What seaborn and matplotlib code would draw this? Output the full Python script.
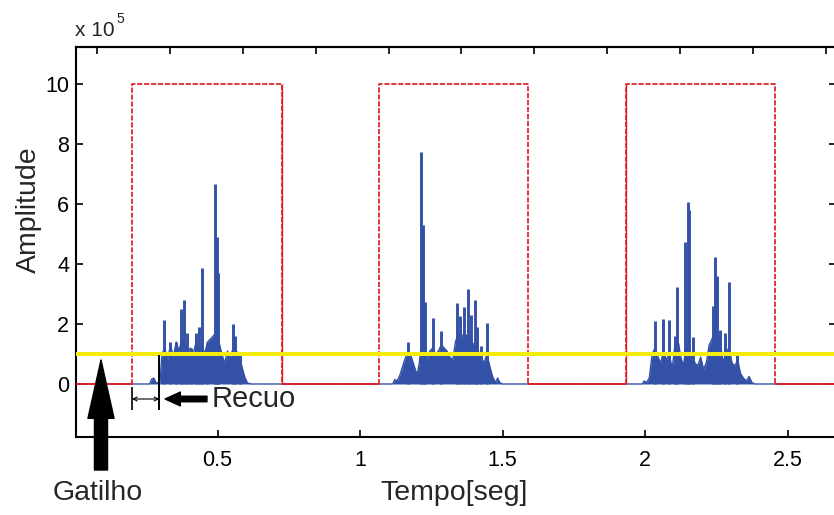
import matplotlib
matplotlib.use("Agg")
import matplotlib.pyplot as plt
import seaborn as sns

# ---------------- data (amplitude in units of 1e5, time in s) ----------------
gate_on = [0.200, 1.065, 1.933]
gate_off = [0.725, 1.588, 2.456]
gate_level = 10.0
threshold = 1.0

# dense "mass" of the signal (envelope of the fast oscillation)
mass_t = [0.0, 0.262, 0.268, 0.276, 0.284, 0.298, 0.305, 0.315, 0.325, 0.335, 0.345,
          0.355, 0.365, 0.375, 0.385, 0.395, 0.405, 0.415, 0.425, 0.435, 0.445, 0.455,
          0.465, 0.475, 0.485, 0.495, 0.505, 0.515, 0.525, 0.535, 0.545, 0.555, 0.565,
          0.575, 0.585, 0.595, 0.605, 0.62,
          1.115, 1.122, 1.13, 1.14, 1.15, 1.16, 1.17, 1.18, 1.19, 1.20, 1.208, 1.215,
          1.225, 1.235, 1.245, 1.255, 1.265, 1.275, 1.285, 1.295, 1.305, 1.315, 1.325,
          1.335, 1.345, 1.355, 1.365, 1.375, 1.385, 1.395, 1.405, 1.415, 1.425, 1.435,
          1.445, 1.455, 1.465, 1.475, 1.483, 1.49, 1.50,
          1.99, 1.997, 2.005, 2.015, 2.025, 2.035, 2.045, 2.055, 2.065, 2.075, 2.085,
          2.095, 2.105, 2.115, 2.125, 2.135, 2.145, 2.155, 2.165, 2.175, 2.185, 2.195,
          2.205, 2.215, 2.225, 2.235, 2.245, 2.255, 2.265, 2.275, 2.285, 2.295, 2.305,
          2.315, 2.325, 2.335, 2.345, 2.355, 2.365, 2.375, 2.385, 2.67]
mass_a = [0.0, 0.0, 0.15, 0.2, 0.05, 0.03, 1.0, 1.2, 0.8, 1.3, 0.9,
          1.4, 1.1, 1.5, 1.3, 1.0, 1.2, 1.0, 1.4, 1.1, 1.3, 1.0,
          1.4, 1.5, 1.6, 1.7, 1.4, 1.0, 0.7, 1.1, 0.9, 1.2, 1.1,
          1.0, 0.6, 0.25, 0.03, 0.0,
          0.0, 0.15, 0.1, 0.3, 0.6, 0.9, 1.1, 0.9, 0.6, 0.3, 0.7, 1.3,
          1.6, 0.8, 1.1, 1.2, 1.0, 1.1, 1.3, 1.2, 1.1, 0.9, 0.8,
          1.4, 1.7, 1.5, 1.7, 1.6, 1.6, 1.3, 1.4, 1.1, 0.9, 0.7,
          1.0, 0.6, 0.25, 0.05, 0.2, 0.05, 0.0,
          0.0, 0.1, 0.05, 0.2, 1.0, 1.2, 0.9, 0.7, 1.1, 0.8, 1.0,
          0.5, 1.3, 1.5, 0.9, 0.6, 1.4, 1.1, 1.0, 0.7, 0.6, 0.9,
          0.5, 0.7, 1.3, 1.5, 1.7, 1.6, 1.3, 0.7, 1.1, 1.2, 0.7,
          0.6, 0.8, 0.35, 0.2, 0.1, 0.25, 0.05, 0.0, 0.0]

# individual spikes
peak_t = [0.313, 0.333, 0.354, 0.371, 0.384, 0.392, 0.406, 0.423, 0.436, 0.444, 0.464,
          0.491, 0.497, 0.503, 0.553, 0.561, 0.579,
          1.170, 1.213, 1.220, 1.228, 1.257, 1.283, 1.339, 1.351, 1.365, 1.380, 1.388,
          1.404, 1.410, 1.423, 1.444,
          2.035, 2.064, 2.084, 2.105, 2.113, 2.140, 2.149, 2.155, 2.167, 2.240, 2.247,
          2.253, 2.263, 2.280, 2.295, 2.324]
peak_a = [2.13, 1.4, 1.4, 2.5, 2.8, 1.7, 1.2, 1.7, 1.9, 3.86, 1.36,
          6.67, 4.9, 3.7, 2.0, 1.6, 1.0,
          1.4, 7.74, 5.3, 2.74, 2.2, 1.78, 2.7, 2.25, 2.58, 3.16, 2.3,
          2.8, 1.9, 1.26, 2.02,
          2.1, 2.16, 2.13, 1.6, 3.22, 4.74, 6.08, 5.8, 1.58, 2.6, 4.24,
          3.6, 1.8, 1.7, 3.41, 1.0]

y_ticks = [0, 2, 4, 6, 8, 10]
x_ticks = [0.5, 1.0, 1.5, 2.0, 2.5]
x_ticklabels = ["0.5", "1", "1.5", "2", "2.5"]
top_ticks = [0.077, 0.333, 0.589, 0.844, 1.100, 1.356, 1.611, 1.867, 2.123, 2.378, 2.634]

# recuo (back-off) marks
recuo_start = 0.200
recuo_end = 0.296

# ---------------- styling ----------------
BLUE = "#3351a6"
RED = "#e11d27"
YELLOW = "#f4ec10"

sns.set_theme(style="white")
plt.rcParams["font.family"] = ["Liberation Sans", "DejaVu Sans"]

fig = plt.figure(figsize=(8.34, 5.15), dpi=100)
ax = fig.add_axes([76 / 834, 1 - 437 / 515, 760 / 834, 390 / 515])

xlim = (0.0035, 2.670)
ylim = (-1.767, 11.233)

# signal
ax.fill_between(mass_t, 0, mass_a, color=BLUE, lw=0, zorder=2)
sns.lineplot(x=mass_t, y=mass_a, color=BLUE, lw=1.0, ax=ax, sort=False,
             estimator=None, zorder=2)
ax.vlines(peak_t, 0, peak_a, color=BLUE, lw=2.1, zorder=2)

# gate square wave
gt, gv = [xlim[0]], [0.0]
for on, off in zip(gate_on, gate_off):
    gt += [on, on, off, off]
    gv += [0.0, gate_level, gate_level, 0.0]
gt.append(xlim[1]); gv.append(0.0)
sns.lineplot(x=gt, y=gv, color=RED, lw=1.25, ax=ax, sort=False, estimator=None,
             dashes=False, zorder=3).lines[-1].set_dashes([3, 1])
# solid low state
low_starts = [xlim[0]] + gate_off
low_ends = gate_on + [xlim[1]]
ax.hlines([0] * len(low_starts), low_starts, low_ends, color=RED, lw=1.2, zorder=3)
ax.vlines([gate_off[0], gate_on[2]], 0, gate_level, color=RED, lw=1.0, zorder=3)

# threshold
ax.axhline(threshold, color=YELLOW, lw=2.9, zorder=4)

ax.set_xlim(*xlim)
ax.set_ylim(*ylim)
ax.set_xticks(x_ticks)
ax.set_xticklabels(x_ticklabels)
ax.set_yticks(y_ticks)
ax.set_yticklabels([str(v) for v in y_ticks])
for s in ax.spines.values():
    s.set_color("black")
    s.set_linewidth(1.5)
ax.tick_params(direction="in", length=5, width=1.2, colors="black",
               labelsize=15.5, right=True, top=False, left=True, bottom=True)
ax.tick_params(axis="x", pad=9)
ax.tick_params(axis="y", pad=5)

sec = ax.secondary_xaxis("top")
sec.set_xticks(top_ticks)
sec.set_xticklabels([])
sec.tick_params(direction="in", length=5, width=1.2, colors="black")
sec.spines["top"].set_linewidth(1.5)

ax.set_xlabel("")
ax.set_ylabel("")
fig.text(454 / 834, 1 - 493 / 515, "Tempo[seg]", fontsize=20.5, ha="center", va="center")
fig.text(29 / 834, 1 - 210 / 515, "Amplitude", fontsize=20.5, ha="center", va="center",
         rotation=90)
fig.text(75 / 834, 1 - 30 / 515, "x 10", fontsize=15, ha="left", va="center")
fig.text(116 / 834, 1 - 19 / 515, "5", fontsize=10, ha="left", va="center")

# Recuo annotation
yr = -0.5
ax.vlines([recuo_start], -0.87, -0.1, color="black", lw=1.2, clip_on=False, zorder=5)
ax.vlines([recuo_end], -0.87, threshold - 0.03, color="black", lw=1.4, clip_on=False, zorder=5)
ax.annotate("", xy=(recuo_start, yr), xytext=(recuo_end, yr),
            arrowprops=dict(arrowstyle="<->", lw=0.8, shrinkA=0, shrinkB=0,
                            mutation_scale=7, color="black"))
ax.annotate("", xy=(0.316, yr), xytext=(0.463, yr),
            arrowprops=dict(arrowstyle="simple,head_length=1.1,head_width=1.0,tail_width=0.4",
                            color="black", shrinkA=0, shrinkB=0, mutation_scale=10))
ax.text(0.481, yr, "Recuo", fontsize=21, ha="left", va="center")

# Gatilho annotation
ax.annotate("", xy=(101, 155), xytext=(101, 45), xycoords="figure pixels",
            textcoords="figure pixels", annotation_clip=False,
            arrowprops=dict(arrowstyle="simple,head_length=2.1,head_width=0.94,tail_width=0.47",
                            color="black", shrinkA=0, shrinkB=0, mutation_scale=20))
fig.text(98 / 834, 1 - 493 / 515, "Gatilho", fontsize=20.5, ha="center", va="center")

fig.savefig("out.png", dpi=100)
